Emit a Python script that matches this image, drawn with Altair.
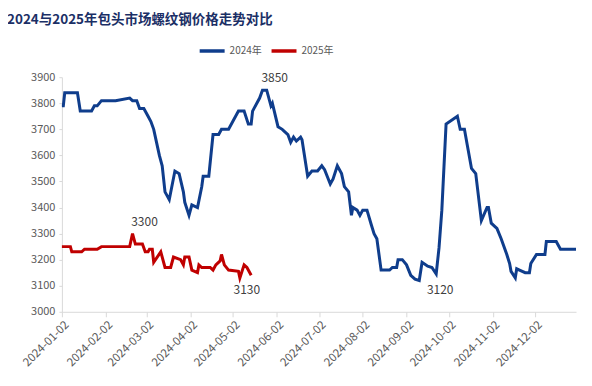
import altair as alt
import pandas as pd

title_text = "2024与2025年包头市场螺纹钢价格走势对比"
series_names = ["2024年", "2025年"]
series_colors = ["#0f3d8c", "#c00000"]

# month-day of each observation (both years drawn on the same Jan-Dec axis)
dates_2024 = ["01-02", "01-03", "01-04", "01-13", "01-15", "01-23", "01-25", "01-27", "01-30", "02-09",
              "02-19", "02-21", "02-24", "02-26", "02-29", "03-03", "03-05", "03-07", "03-09", "03-11",
              "03-13", "03-15", "03-18", "03-22", "03-25", "03-28", "03-29", "04-01", "04-03", "04-07",
              "04-10", "04-11", "04-15", "04-18", "04-22", "04-24", "04-29", "05-06", "05-10", "05-13",
              "05-15", "05-16", "05-19", "05-21", "05-23", "05-26", "05-29", "05-30", "06-03", "06-06",
              "06-10", "06-12", "06-14", "06-16", "06-19", "06-20", "06-24", "06-27", "07-01", "07-04",
              "07-06", "07-10", "07-12", "07-15", "07-18", "07-20", "07-23", "07-25", "07-26", "07-29",
              "07-31", "08-02", "08-05", "08-08", "08-10", "08-12", "08-15", "08-21", "08-23", "08-26",
              "08-27", "08-30", "09-02", "09-05", "09-08", "09-11", "09-13", "09-17", "09-20", "09-23",
              "09-25", "09-27", "09-30", "10-08", "10-10", "10-13", "10-15", "10-18", "10-21", "10-25",
              "10-29", "10-30", "11-01", "11-04", "11-05", "11-08", "11-12", "11-14", "11-15", "11-18",
              "11-19", "11-21", "11-25", "11-28", "11-29", "12-03", "12-09", "12-10", "12-17", "12-20",
              "12-31"]
prices_2024 = [3790, 3790, 3840, 3840, 3770, 3770, 3790, 3790, 3810, 3810,
               3820, 3810, 3810, 3780, 3780, 3750, 3730, 3700, 3650, 3600,
               3560, 3460, 3430, 3540, 3530, 3460, 3420, 3370, 3410, 3400,
               3480, 3520, 3520, 3680, 3680, 3700, 3700, 3770, 3770, 3720,
               3720, 3770, 3800, 3820, 3850, 3850, 3790, 3800, 3710, 3700,
               3680, 3650, 3670, 3655, 3670, 3660, 3520, 3540, 3540, 3560,
               3545, 3490, 3510, 3560, 3530, 3480, 3460, 3370, 3400, 3390,
               3370, 3390, 3390, 3335, 3300, 3280, 3160, 3160, 3170, 3170,
               3200, 3200, 3180, 3140, 3125, 3120, 3190, 3175, 3170, 3145,
               3245, 3390, 3720, 3750, 3700, 3700, 3640, 3550, 3530, 3350,
               3400, 3400, 3340, 3325, 3320, 3280, 3220, 3185, 3155, 3130,
               3165, 3160, 3150, 3150, 3185, 3220, 3220, 3270, 3270, 3240,
               3240]

dates_2025 = ["01-02", "01-08", "01-09", "01-16", "01-18", "01-27", "01-30", "02-19", "02-21", "02-23",
              "02-28", "03-01", "03-03", "03-04", "03-06", "03-07", "03-12", "03-15", "03-19", "03-21",
              "03-26", "03-28", "03-29", "04-01", "04-03", "04-07", "04-08", "04-10", "04-16", "04-18",
              "04-20", "04-23", "04-24", "04-26", "04-29", "05-06", "05-07", "05-10", "05-12", "05-15"]
prices_2025 = [3250, 3250, 3230, 3230, 3240, 3240, 3250, 3250, 3300, 3260,
               3260, 3230, 3230, 3240, 3240, 3190, 3230, 3170, 3170, 3210,
               3200, 3180, 3210, 3210, 3160, 3150, 3180, 3170, 3170, 3160,
               3180, 3195, 3220, 3180, 3160, 3155, 3130, 3180, 3170, 3140]

ann_dates = ["05-26", "02-21", "05-07", "09-11"]
ann_values = [3850, 3300, 3130, 3120]
ann_labels = ["3850", "3300", "3130", "3120"]

month_ticks = list(range(1, 13))
y_ticks = list(range(3000, 3901, 100))


def to_ts(md):
    return "2024-" + md + "T00:00:00"


df = pd.DataFrame({
    "date": [to_ts(d) for d in dates_2024] + [to_ts(d) for d in dates_2025],
    "price": prices_2024 + prices_2025,
    "series": [series_names[0]] * len(dates_2024) + [series_names[1]] * len(dates_2025),
})
ann = pd.DataFrame({
    "date": [to_ts(d) for d in ann_dates],
    "price": ann_values,
    "label": ann_labels,
})

x_enc = alt.X(
    "date:T",
    title=None,
    scale=alt.Scale(domain=[alt.DateTime(year=2024, month=1, date=2),
                            alt.DateTime(year=2024, month=12, date=31)]),
    axis=alt.Axis(
        values=[alt.DateTime(year=2024, month=m, date=2) for m in month_ticks],
        format="%Y-%m-%d", labelAngle=-45, labelAlign="right", labelBaseline="middle",
        labelPadding=6, labelOffset=5, labelFontSize=11.5, labelColor="#595959", labelOverlap=False,
        domainColor="#d9d9d9", tickColor="#d9d9d9", tickSize=5, grid=False,
    ),
)
y_enc = alt.Y(
    "price:Q",
    title=None,
    scale=alt.Scale(domain=[3000, 3900], nice=False, zero=False),
    axis=alt.Axis(
        values=y_ticks, format="d", labelFontSize=11, labelColor="#595959", labelPadding=4,
        labelOverlap=False, domainColor="#d9d9d9", tickColor="#d9d9d9", tickSize=3, grid=False,
    ),
)

lines = alt.Chart(df).mark_line(strokeWidth=3).encode(
    x=x_enc,
    y=y_enc,
    color=alt.Color(
        "series:N",
        scale=alt.Scale(domain=series_names, range=series_colors),
        legend=alt.Legend(
            title=None, orient="none", direction="horizontal", legendX=136, legendY=-41,
            symbolType="stroke", symbolSize=625, symbolStrokeWidth=3.5,
            labelFontSize=10, labelColor="#595959", labelOffset=3, columnPadding=2, padding=0,
        ),
    ),
)

offsets = {"3850": (8, -12), "3300": (12, -12), "3130": (7, 12), "3120": (21, 10)}
texts = []
for lab in ann_labels:
    dx, dy = offsets[lab]
    texts.append(
        alt.Chart(ann).transform_filter(alt.datum.label == lab)
        .mark_text(fontSize=12, color="#404040", dx=dx, dy=dy, baseline="middle")
        .encode(x=x_enc, y=y_enc, text="label:N")
    )

chart = alt.layer(lines, *texts).properties(
    width=515,
    height=235,
    autosize="none",
    padding={"left": 54, "top": 69, "right": 8, "bottom": 62},
    title=alt.TitleParams(
        text=title_text, anchor="start", frame="group", dx=-55, dy=20, offset=16,
        baseline="bottom", fontSize=13.5, fontWeight="bold", color="#1b2f66",
    ),
).configure(font="Noto Sans CJK SC").configure_view(strokeWidth=0)

chart.save("out.html", embed_options={"renderer": "svg", "actions": False})
